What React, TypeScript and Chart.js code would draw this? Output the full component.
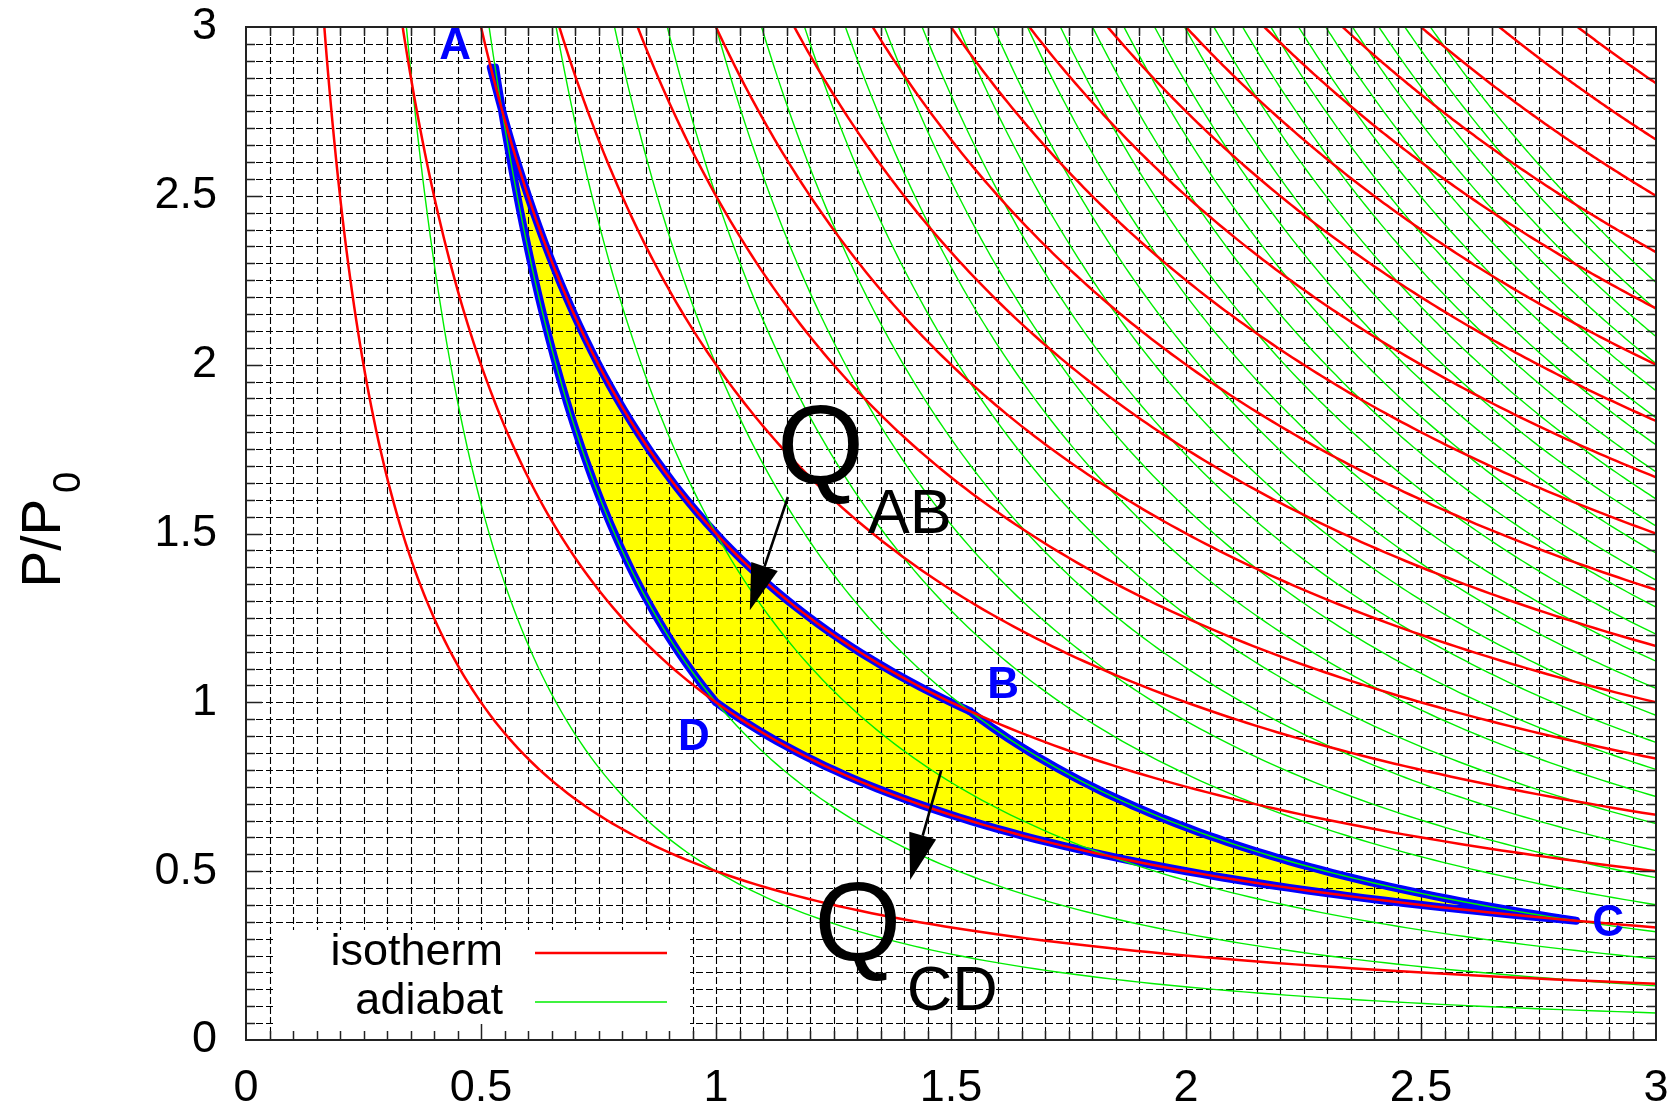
import React, { useEffect, useRef } from 'react';
import { Chart, registerables } from 'chart.js';

Chart.register(...registerables);

// Ideal-gas P–V diagram in reduced units (P/P0 against V/V0), monatomic gas
const GAMMA = 5 / 3;

// isotherms:  P = T / V
const isothermTemps = [0.5, 1, 1.5, 2, 2.5, 3, 3.5, 4, 4.5, 5, 5.5, 6, 6.5, 7, 7.5, 8, 8.5];
// adiabats:   P = K / V^gamma
const adiabatConsts = [
  0.5, 1, 1.5, 2, 2.5, 3, 3.5, 4, 4.5, 5, 5.5, 6, 6.5, 7,
  7.5, 8, 8.5, 9, 9.5, 10, 10.5, 11, 11.5, 12, 12.5, 13, 13.5, 14,
];

// Carnot cycle: A→B hot isotherm, B→C adiabat, C→D cold isotherm, D→A adiabat
const hotTemp = 1.5;
const coldTemp = 1.0;
const lowAdiabat = 1.0;
const highAdiabat = 2.0;
const cornerNames = ['A', 'B', 'C', 'D'];
const cornerVolumes = [0.544, 1.54, 2.83, 1.0];
const cornerLabelV = [0.445, 1.611, 2.898, 0.953];
const cornerLabelP = [2.941, 1.048, 0.344, 0.894];
const outlineTopP = 2.88; // the outline runs a little past A on both branches

const tickValues = [0, 0.5, 1, 1.5, 2, 2.5, 3];
const tickLabels = ['0', '0.5', '1', '1.5', '2', '2.5', '3'];

// heat-flow annotations Q_AB and Q_CD
const heatSubscripts = ['AB', 'CD'];
const heatTextV = [1.13, 1.209];
const heatTextP = [1.65, 0.237];
const heatSubV = [1.323, 1.406];
const heatSubP = [1.501, 0.089];
const arrowFromV = [1.153, 1.479];
const arrowFromP = [1.608, 0.797];
const arrowToV = [1.072, 1.413];
const arrowToP = [1.273, 0.474];

const legendNames = ['isotherm', 'adiabat'];

const FONT = '"Liberation Sans", Arial, Helvetica, sans-serif';
const RED = '#ff0000';
const GREEN = '#00ee00';
const BLUE = '#0000ff';
const YELLOW = '#ffff00';

const V_MAX = 3;
const P_TOP = 3.2;

const isothermP = (t: number, v: number) => t / v;
const adiabatP = (k: number, v: number) => k / Math.pow(v, GAMMA);

// geometric spacing of volumes keeps the steep left part of each curve smooth
function volumes(v0: number, v1: number, n = 160): number[] {
  const out: number[] = [];
  const r = Math.log(v1 / v0);
  for (let i = 0; i <= n; i++) out.push(v0 * Math.exp((r * i) / n));
  return out;
}

const isothermCurve = (t: number, v0: number, v1: number, n?: number) =>
  volumes(v0, v1, n).map((v) => ({ x: v, y: isothermP(t, v) }));
const adiabatCurve = (k: number, v0: number, v1: number, n?: number) =>
  volumes(v0, v1, n).map((v) => ({ x: v, y: adiabatP(k, v) }));

const [vA, vB, vC, vD] = cornerVolumes;

const cycleShape = [
  ...isothermCurve(hotTemp, vA, vB, 60),
  ...adiabatCurve(highAdiabat, vB, vC, 60),
  ...isothermCurve(coldTemp, vC, vD, 60),
  ...adiabatCurve(lowAdiabat, vD, vA, 60),
];

const cycleOutline = [
  ...isothermCurve(hotTemp, hotTemp / outlineTopP, vB, 60),
  ...adiabatCurve(highAdiabat, vB, vC, 60),
  ...isothermCurve(coldTemp, vC, vD, 60),
  ...adiabatCurve(lowAdiabat, vD, Math.pow(lowAdiabat / outlineTopP, 1 / GAMMA), 60),
];

function drawArrow(ctx: CanvasRenderingContext2D, x0: number, y0: number, x1: number, y1: number) {
  const ang = Math.atan2(y1 - y0, x1 - x0);
  const headLen = 46;
  const headHalf = 14;
  const bx = x1 - headLen * Math.cos(ang);
  const by = y1 - headLen * Math.sin(ang);
  ctx.strokeStyle = '#000';
  ctx.fillStyle = '#000';
  ctx.lineWidth = 2.6;
  ctx.setLineDash([]);
  ctx.beginPath();
  ctx.moveTo(x0, y0);
  ctx.lineTo(bx, by);
  ctx.stroke();
  ctx.beginPath();
  ctx.moveTo(x1, y1);
  ctx.lineTo(bx + headHalf * Math.sin(ang), by - headHalf * Math.cos(ang));
  ctx.lineTo(bx - headHalf * Math.sin(ang), by + headHalf * Math.cos(ang));
  ctx.closePath();
  ctx.fill();
}

const MINOR = 0.05;
const MINOR_COUNT = Math.round(V_MAX / MINOR);

const pvOverlay = {
  id: 'pvOverlay',
  // dashed grid sits above the yellow cycle area but below every curve
  afterDatasetDraw(chart: any, args: any) {
    if (args.index !== 0) return;
    const { ctx, chartArea: a, scales } = chart;
    const xs = scales.x;
    const ys = scales.y;
    ctx.save();
    ctx.strokeStyle = '#000';
    ctx.lineWidth = 1.1;
    ctx.setLineDash([7, 3]);
    for (let i = 1; i < MINOR_COUNT; i++) {
      const px = Math.round(xs.getPixelForValue(i * MINOR)) + 0.5;
      ctx.beginPath();
      ctx.moveTo(px, a.top);
      ctx.lineTo(px, a.bottom);
      ctx.stroke();
      const py = Math.round(ys.getPixelForValue(i * MINOR)) + 0.5;
      ctx.beginPath();
      ctx.moveTo(a.left, py);
      ctx.lineTo(a.right, py);
      ctx.stroke();
    }
    ctx.restore();
  },
  afterDatasetsDraw(chart: any) {
    const { ctx, chartArea: a, scales } = chart;
    const xs = scales.x;
    const ys = scales.y;
    ctx.save();

    // key box in the lower-left corner
    const boxLeft = a.left + 29;
    const boxTop = a.bottom - 110;
    ctx.fillStyle = '#fff';
    ctx.fillRect(boxLeft, boxTop, 415, a.bottom - boxTop);
    ctx.font = `45px ${FONT}`;
    ctx.fillStyle = '#000';
    ctx.textAlign = 'right';
    ctx.textBaseline = 'middle';
    const keyColors = [RED, GREEN];
    const keyWidths = [2.6, 1.6];
    legendNames.forEach((name, i) => {
      const yy = a.bottom - 87 + i * 49;
      ctx.fillStyle = '#000';
      ctx.fillText(name, a.left + 257, yy);
      ctx.strokeStyle = keyColors[i];
      ctx.lineWidth = keyWidths[i];
      ctx.beginPath();
      ctx.moveTo(a.left + 289, yy);
      ctx.lineTo(a.left + 421, yy);
      ctx.stroke();
    });

    // border with inward ticks on all four sides
    ctx.strokeStyle = '#222';
    ctx.lineWidth = 1.5;
    for (let i = 1; i < MINOR_COUNT; i++) {
      const len = i % 10 === 0 ? 16 : 9;
      const px = Math.round(xs.getPixelForValue(i * MINOR)) + 0.5;
      const py = Math.round(ys.getPixelForValue(i * MINOR)) + 0.5;
      ctx.beginPath();
      ctx.moveTo(px, a.bottom);
      ctx.lineTo(px, a.bottom - len);
      ctx.moveTo(px, a.top);
      ctx.lineTo(px, a.top + len);
      ctx.moveTo(a.left, py);
      ctx.lineTo(a.left + len, py);
      ctx.moveTo(a.right, py);
      ctx.lineTo(a.right - len, py);
      ctx.stroke();
    }
    ctx.lineWidth = 2;
    ctx.strokeRect(a.left, a.top, a.right - a.left, a.bottom - a.top);

    // state labels
    ctx.font = `bold 44px ${FONT}`;
    ctx.fillStyle = BLUE;
    ctx.textAlign = 'center';
    ctx.textBaseline = 'middle';
    cornerNames.forEach((n, i) => {
      ctx.fillText(n, xs.getPixelForValue(cornerLabelV[i]), ys.getPixelForValue(cornerLabelP[i]));
    });

    // heat annotations
    ctx.fillStyle = '#000';
    ctx.textAlign = 'left';
    ctx.textBaseline = 'alphabetic';
    heatSubscripts.forEach((sub, i) => {
      ctx.font = `112px ${FONT}`;
      ctx.fillText('Q', xs.getPixelForValue(heatTextV[i]), ys.getPixelForValue(heatTextP[i]));
      ctx.font = `63px ${FONT}`;
      ctx.fillText(sub, xs.getPixelForValue(heatSubV[i]), ys.getPixelForValue(heatSubP[i]));
      drawArrow(
        ctx,
        xs.getPixelForValue(arrowFromV[i]),
        ys.getPixelForValue(arrowFromP[i]),
        xs.getPixelForValue(arrowToV[i]),
        ys.getPixelForValue(arrowToP[i]),
      );
    });

    // y-axis title P/P0
    ctx.translate(60, ys.getPixelForValue(1.34));
    ctx.rotate(-Math.PI / 2);
    ctx.fillStyle = '#000';
    ctx.textAlign = 'left';
    ctx.textBaseline = 'alphabetic';
    ctx.font = `55px ${FONT}`;
    ctx.fillText('P/P', 0, 0);
    const w = ctx.measureText('P/P').width;
    ctx.font = `38px ${FONT}`;
    ctx.fillText('0', w + 6, 20);

    ctx.restore();
  },
};

export default function App() {
  const canvasRef = useRef<HTMLCanvasElement | null>(null);

  useEffect(() => {
    const canvas = canvasRef.current;
    if (!canvas) return;
    Chart.defaults.font.family = FONT;

    const curve = (data: { x: number; y: number }[], color: string, width: number, order: number) => ({
      data,
      showLine: true,
      fill: false,
      borderColor: color,
      borderWidth: width,
      pointRadius: 0,
      tension: 0,
      order,
    });

    const datasets: any[] = [
      {
        data: cycleShape,
        showLine: true,
        fill: 'shape',
        backgroundColor: YELLOW,
        borderColor: 'rgba(0,0,0,0)',
        borderWidth: 0,
        pointRadius: 0,
        order: 100,
      },
      {
        ...curve(cycleOutline, BLUE, 8, 50),
        borderJoinStyle: 'round',
        borderCapStyle: 'round',
      },
      ...adiabatConsts.map((k) =>
        curve(adiabatCurve(k, Math.pow(k / P_TOP, 1 / GAMMA), V_MAX), GREEN, 1.4, 20),
      ),
      ...isothermTemps.map((t) => curve(isothermCurve(t, t / P_TOP, V_MAX), RED, 2.5, 10)),
    ];

    const axisTicks = (scale: any) => {
      scale.ticks = tickValues.map((v) => ({ value: v }));
    };

    const chart = new Chart(canvas, {
      type: 'scatter',
      data: { datasets },
      plugins: [pvOverlay],
      options: {
        animation: false,
        responsive: false,
        events: [],
        layout: { padding: { left: 156, right: 22, top: 27, bottom: 0 } },
        plugins: {
          legend: { display: false },
          tooltip: { enabled: false },
        },
        scales: {
          x: {
            type: 'linear',
            min: 0,
            max: V_MAX,
            afterBuildTicks: axisTicks,
            afterFit: (s: any) => {
              s.height = 72;
              s.paddingLeft = 0;
              s.paddingRight = 0;
            },
            grid: { display: false, drawTicks: false },
            border: { display: false },
            ticks: {
              autoSkip: false,
              maxRotation: 0,
              padding: 22,
              color: '#000',
              font: { family: FONT, size: 45 },
              callback: (_v: any, i: number) => tickLabels[i],
            },
          },
          y: {
            type: 'linear',
            min: 0,
            max: 3,
            afterBuildTicks: axisTicks,
            afterFit: (s: any) => {
              s.width = 90;
              s.paddingTop = 0;
              s.paddingBottom = 0;
            },
            grid: { display: false, drawTicks: false },
            border: { display: false },
            ticks: {
              autoSkip: false,
              padding: 29,
              color: '#000',
              font: { family: FONT, size: 45 },
              callback: (_v: any, i: number) => tickLabels[i],
            },
          },
        },
      } as any,
    });

    return () => chart.destroy();
  }, []);

  return (
    <div style={{ position: 'absolute', left: 0, top: 0, width: 1678, height: 1112, background: '#fff' }}>
      <canvas ref={canvasRef} width={1678} height={1112} style={{ display: 'block' }} />
    </div>
  );
}
